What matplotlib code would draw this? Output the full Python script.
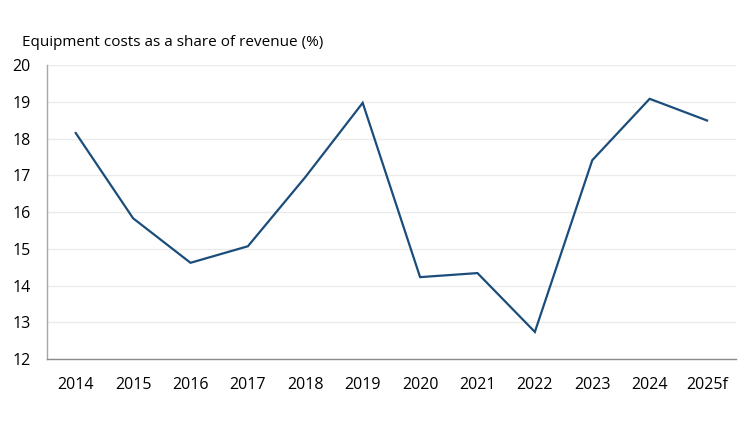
import matplotlib
matplotlib.use("Agg")
import matplotlib.pyplot as plt

plt.rcParams["font.family"] = ["Open Sans", "DejaVu Sans"]

# ---------- Data ----------
years = ["2014", "2015", "2016", "2017", "2018", "2019",
         "2020", "2021", "2022", "2023", "2024", "2025f"]
share = [18.15, 15.83, 14.62, 15.07, 16.95, 18.97,
         14.23, 14.34, 12.74, 17.41, 19.08, 18.49]
y_ticks = [12, 13, 14, 15, 16, 17, 18, 19, 20]

TITLE = "Equipment costs as a share of revenue (%)"
LINE_COLOR = "#1b4d7a"

# ---------- Plot ----------
fig = plt.figure(figsize=(7.5, 4.22), dpi=100)
ax = fig.add_axes([0.0627, 0.149, 0.9183, 0.697])

x = list(range(len(years)))
ax.plot(x, share, color=LINE_COLOR, linewidth=1.6, solid_joinstyle="miter")

ax.set_xlim(-0.5, len(years) - 0.5)
ax.set_ylim(12, 20)
ax.set_xticks(x)
ax.set_xticklabels(years)
ax.set_yticks(y_ticks)

ax.tick_params(axis="both", length=0, labelsize=11.5, colors="black")
ax.tick_params(axis="x", pad=13)
ax.tick_params(axis="y", pad=12)

ax.grid(axis="y", color="#ebebeb", linewidth=1)
ax.set_axisbelow(True)
for side in ["top", "right"]:
    ax.spines[side].set_visible(False)
ax.spines["left"].set_color("#a6a6a6")
ax.spines["bottom"].set_color("#8c8c8c")
ax.spines["left"].set_linewidth(1)
ax.spines["bottom"].set_linewidth(1)

fig.text(0.029, 0.9, TITLE, fontsize=11, ha="left", va="center")

fig.savefig("out.png", dpi=100)
plt.close(fig)
